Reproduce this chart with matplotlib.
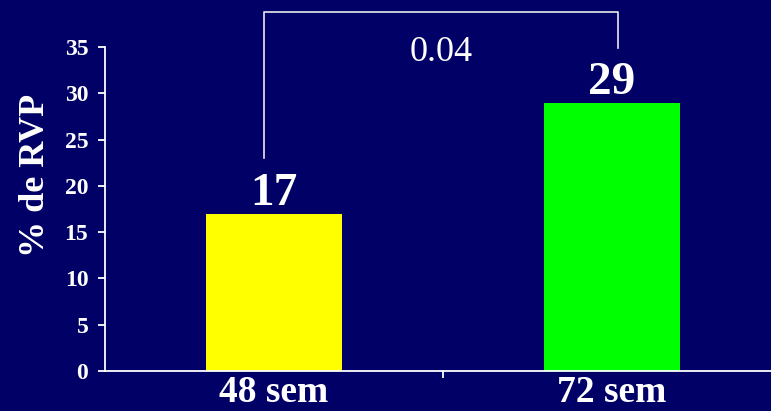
import matplotlib
matplotlib.use("Agg")
import matplotlib.pyplot as plt

categories = ["48 sem", "72 sem"]
values = [17, 29]
bar_colors = ["#ffff00", "#00ff00"]
y_ticks = [0, 5, 10, 15, 20, 25, 30, 35]
p_value = "0.04"
y_label = "% de RVP"

BG = "#000066"
plt.rcParams["font.family"] = ["Liberation Serif", "DejaVu Serif"]

W, H = 771, 411
fig = plt.figure(figsize=(W / 100, H / 100), dpi=100, facecolor=BG)
ax = fig.add_axes([105 / W, (H - 371) / H, 676 / W, 324 / H])
ax.set_facecolor(BG)

x = list(range(len(categories)))
ax.bar(x, values, width=0.405, color=bar_colors, zorder=2)
ax.set_xlim(-0.5, 1.5)
ax.set_ylim(0, 35)

for s in ["top", "right"]:
    ax.spines[s].set_visible(False)
for s in ["left", "bottom"]:
    ax.spines[s].set_color("white")
    ax.spines[s].set_linewidth(1.3)

ax.set_yticks(y_ticks)
ax.set_yticklabels([str(t) for t in y_ticks], fontsize=17, fontweight="bold", color="white")
ax.tick_params(axis="y", colors="white", length=5, width=1.3, pad=7)

ax.set_xticks([0.5], minor=True)
ax.tick_params(axis="x", which="minor", colors="white", length=5, width=1.3)
ax.set_xticks(x)
ax.set_xticklabels(categories, fontsize=27, fontweight="bold", color="white")
ax.tick_params(axis="x", which="major", length=0, pad=3)

fig.text(35 / W, (H - 175) / H, y_label, rotation=90, ha="center", va="center",
         fontsize=26, fontweight="bold", color="white")

for xi, v in zip(x, values):
    ax.annotate(str(v), (xi, v), xytext=(0, 6.5), textcoords="offset points",
                ha="center", va="baseline", fontsize=34, fontweight="bold", color="white")

# significance bracket
bx0, bx1 = -0.030, 1.018
ytop = 38.8
ax.plot([bx0, bx0, bx1, bx1], [23.0, ytop, ytop, 34.9], color="#e8e8f0", lw=1.2,
        clip_on=False, zorder=3)
ax.text((bx0 + bx1) / 2, 34.4, p_value, ha="center", va="center", fontsize=26,
        color="white")

fig.savefig("out.png", dpi=100, facecolor=BG)
